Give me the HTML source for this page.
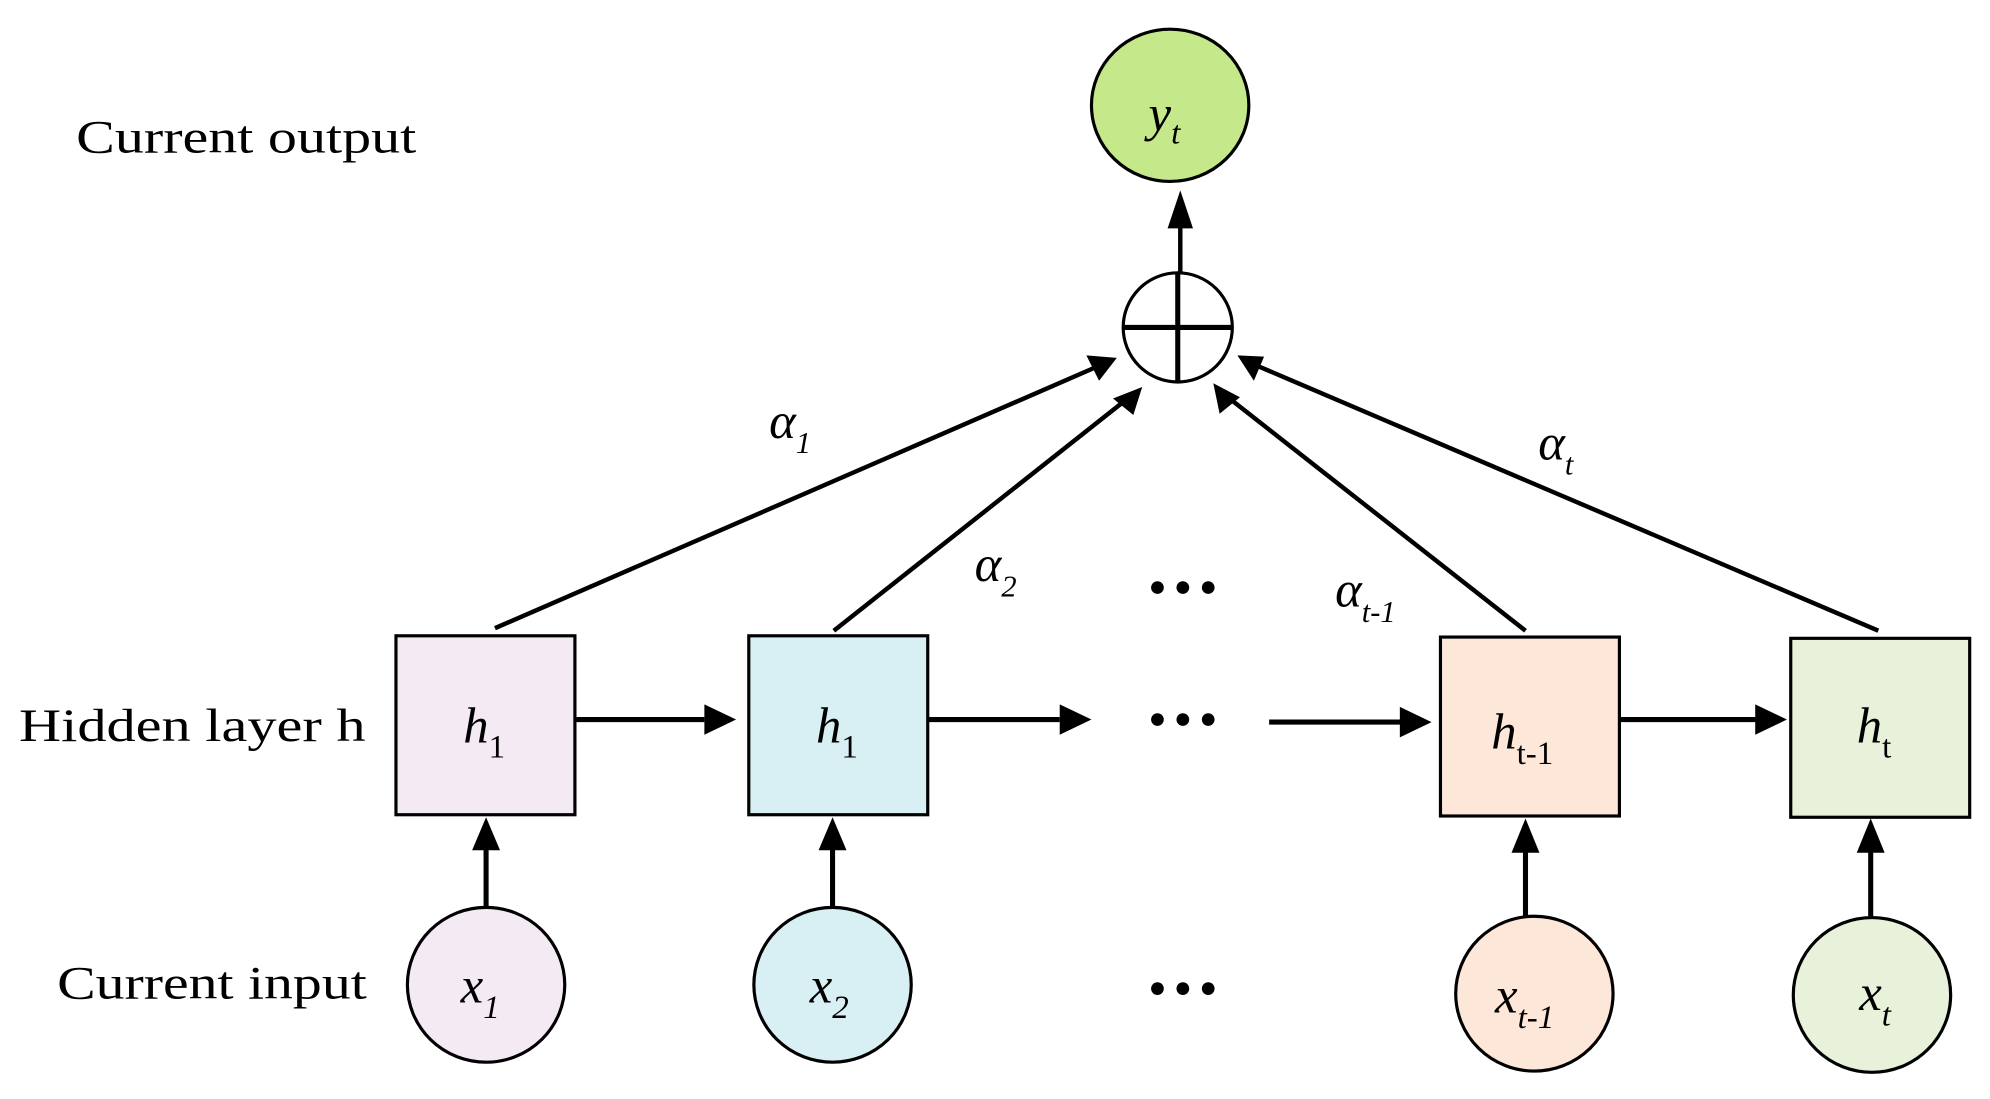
<!DOCTYPE html>
<html><head><style>
html,body{margin:0;padding:0;background:#fff;}
svg{display:block;}
</style></head><body>
<svg width="1990" height="1099" viewBox="0 0 1568 866" preserveAspectRatio="none" xmlns="http://www.w3.org/2000/svg">
<g stroke="#000" stroke-width="3.5" fill="none">
<line x1="930" y1="215" x2="930" y2="178"/>
<line x1="390" y1="495" x2="862" y2="290"/>
<line x1="657" y1="497" x2="886" y2="316"/>
<line x1="1202" y1="497" x2="970" y2="315"/>
<line x1="1480" y1="497" x2="990" y2="288"/>
<line x1="453" y1="567" x2="555" y2="567" stroke-width="4"/>
<line x1="731" y1="567" x2="835" y2="567" stroke-width="4"/>
<line x1="1000" y1="569" x2="1105" y2="569" stroke-width="4"/>
<line x1="1276" y1="567" x2="1385" y2="567" stroke-width="4"/>
<line x1="383" y1="715" x2="383" y2="668" stroke-width="4"/>
<line x1="656" y1="715" x2="656" y2="668" stroke-width="4"/>
<line x1="1202" y1="722" x2="1202" y2="670" stroke-width="4"/>
<line x1="1474" y1="722" x2="1474" y2="670" stroke-width="4"/>
</g>
<g fill="#000">
<polygon points="930,150 920,180 940,180"/>
<polygon points="880,282 856,280 866,300"/>
<polygon points="900,305 877,314 893,327"/>
<polygon points="956,302 961,326 977,313"/>
<polygon points="975,280 988,300 996,281"/>
<polygon points="580,567 555,555 555,579"/>
<polygon points="860,567 835,555 835,579"/>
<polygon points="1128,569 1103,557 1103,581"/>
<polygon points="1408,567 1383,555 1383,579"/>
<polygon points="383,644 372,670 394,670"/>
<polygon points="656,644 645,670 667,670"/>
<polygon points="1202,645 1191,672 1213,672"/>
<polygon points="1474,645 1463,672 1485,672"/>
<circle cx="912" cy="463" r="5"/><circle cx="932" cy="463" r="5"/><circle cx="952" cy="463" r="5"/>
<circle cx="912" cy="567" r="5"/><circle cx="932" cy="567" r="5"/><circle cx="952" cy="567" r="5"/>
<circle cx="912" cy="779" r="5"/><circle cx="932" cy="779" r="5"/><circle cx="952" cy="779" r="5"/>
</g>
<g stroke="#000" stroke-width="2.5">
<ellipse cx="922" cy="83" rx="62" ry="60" fill="#c5e88a"/>
<circle cx="928" cy="258" r="43" fill="#fff"/>
<line x1="885" y1="258" x2="971" y2="258" stroke-width="4"/>
<line x1="928" y1="215" x2="928" y2="301" stroke-width="4"/>
<rect x="312" y="501" width="141" height="141" fill="#f4eaf4"/>
<rect x="590" y="501" width="141" height="141" fill="#d8eff3"/>
<rect x="1135" y="502" width="141" height="141" fill="#fde7d8"/>
<rect x="1411" y="503" width="141" height="141" fill="#e8f2da"/>
<ellipse cx="383" cy="776" rx="62" ry="61" fill="#f4eaf4"/>
<ellipse cx="656" cy="776" rx="62" ry="61" fill="#d8eff3"/>
<ellipse cx="1209" cy="783" rx="62" ry="61" fill="#fde7d8"/>
<ellipse cx="1475" cy="784" rx="62" ry="61" fill="#e8f2da"/>
</g>
<g font-size="37" fill="#000" font-family="Liberation Serif, DejaVu Serif, serif" transform="scale(1,1)">
<text x="60" y="120" textLength="268" lengthAdjust="spacingAndGlyphs">Current output</text>
<text x="15" y="584" textLength="273" lengthAdjust="spacingAndGlyphs">Hidden layer h</text>
<text x="45" y="787" textLength="244" lengthAdjust="spacingAndGlyphs">Current input</text>
</g>
<g font-size="40" font-style="italic" fill="#000" font-family="Liberation Serif, DejaVu Serif, serif">
<text x="905" y="103">y<tspan font-size="26" dy="10">t</tspan></text>
<text x="365" y="585">h<tspan font-size="26" font-style="normal" dy="12">1</tspan></text>
<text x="643" y="585">h<tspan font-size="26" font-style="normal" dy="12">1</tspan></text>
<text x="1175" y="590">h<tspan font-size="26" font-style="normal" dy="12">t-1</tspan></text>
<text x="1463" y="585">h<tspan font-size="26" font-style="normal" dy="12">t</tspan></text>
<text x="363" y="790">x<tspan font-size="26" dy="12">1</tspan></text>
<text x="638" y="790">x<tspan font-size="26" dy="12">2</tspan></text>
<text x="1178" y="798">x<tspan font-size="26" dy="12">t-1</tspan></text>
<text x="1465" y="796">x<tspan font-size="26" dy="12">t</tspan></text>
<text x="606" y="345">α<tspan font-size="24" dy="12">1</tspan></text>
<text x="768" y="458">α<tspan font-size="24" dy="12">2</tspan></text>
<text x="1052" y="478">α<tspan font-size="24" dy="12">t-1</tspan></text>
<text x="1212" y="362">α<tspan font-size="24" dy="12">t</tspan></text>
</g>
</svg>
</body></html>
